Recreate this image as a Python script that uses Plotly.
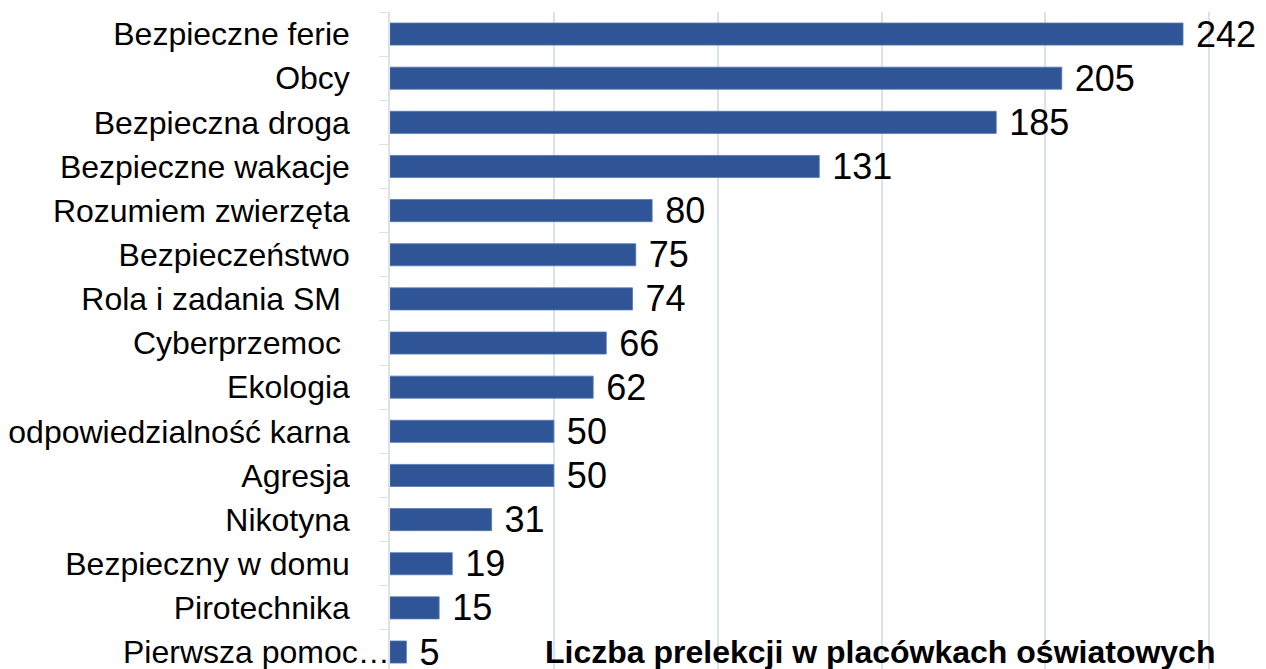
import plotly.graph_objects as go

categories = [
    "Bezpieczne ferie",
    "Obcy",
    "Bezpieczna droga",
    "Bezpieczne wakacje",
    "Rozumiem zwierzęta",
    "Bezpieczeństwo",
    "Rola i zadania SM ",
    "Cyberprzemoc ",
    "Ekologia",
    "odpowiedzialność karna",
    "Agresja",
    "Nikotyna",
    "Bezpieczny w domu",
    "Pirotechnika",
    "Pierwsza pomoc…",
]
values = [242, 205, 185, 131, 80, 75, 74, 66, 62, 50, 50, 31, 19, 15, 5]

title_text = "Liczba prelekcji w placówkach oświatowych"

# bottom-up order for plotly
cats = categories[::-1]
vals = values[::-1]
# the long, truncated label sits closer to the axis, drawn separately below
tick_text = [""] + cats[1:]

fig = go.Figure(
    go.Bar(
        x=vals,
        y=cats,
        orientation="h",
        width=0.5,
        marker=dict(color="#2F5597", line=dict(color="#5577B3", width=0.8)),
        text=[str(v) for v in vals],
        textposition="outside",
        texttemplate=" %{text}",
        constraintext="none",
        textfont=dict(size=36, color="#000000", family="Liberation Sans, Arial"),
        cliponaxis=False,
    )
)

# page body adds an 8px offset, so the figure is sized to fit inside the window
fig.update_layout(
    width=1258,
    height=661,
    margin=dict(l=376, r=24, t=4, b=0),
    plot_bgcolor="white",
    paper_bgcolor="white",
    font=dict(family="Liberation Sans, Arial", color="#000000"),
    showlegend=False,
)

fig.update_xaxes(
    range=[0, 260],
    showgrid=True,
    gridcolor="#DDE1E8",
    gridwidth=1.5,
    dtick=50,
    showticklabels=False,
    zeroline=False,
    showline=False,
)

fig.update_yaxes(
    type="category",
    categoryorder="array",
    categoryarray=cats,
    tickvals=cats,
    ticktext=tick_text,
    range=[-0.385, 14.5],
    showline=True,
    linecolor="#DDE1E8",
    linewidth=1.5,
    ticks="outside",
    tickson="boundaries",
    ticklen=9,
    tickcolor="#DDE1E8",
    tickfont=dict(size=32, color="#000000"),
    ticklabelstandoff=32,
    showgrid=False,
)

fig.add_annotation(
    text=cats[0],
    x=0,
    y=cats[0],
    xref="x",
    yref="y",
    xanchor="right",
    yanchor="middle",
    xshift=2,
    showarrow=False,
    font=dict(size=32, color="#000000"),
)

fig.add_annotation(
    text=f"<b>{title_text}</b>",
    xref="paper",
    yref="paper",
    x=0.575,
    y=0.026,
    xanchor="center",
    yanchor="middle",
    showarrow=False,
    font=dict(size=32, color="#000000"),
)

fig.write_html("out.html")
